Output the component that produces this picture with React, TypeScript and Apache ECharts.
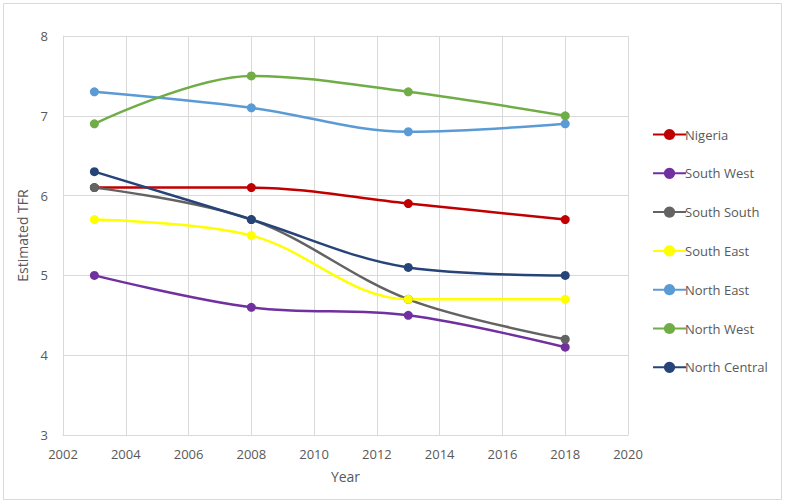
import React, { useEffect, useRef } from "react";
import * as echarts from "echarts";

const years = [2003, 2008, 2013, 2018];
const seriesNames = ["Nigeria", "South West", "South South", "South East", "North East", "North West", "North Central"];
const nigeria = [6.1, 6.1, 5.9, 5.7];
const southWest = [5.0, 4.6, 4.5, 4.1];
const southSouth = [6.1, 5.7, 4.7, 4.2];
const southEast = [5.7, 5.5, 4.7, 4.7];
const northEast = [7.3, 7.1, 6.8, 6.9];
const northWest = [6.9, 7.5, 7.3, 7.0];
const northCentral = [6.3, 5.7, 5.1, 5.0];
const colors = ["#C00000", "#7030A0", "#636363", "#FFFF00", "#5B9BD5", "#70AD47", "#264478"];

export default function App() {
  const ref = useRef<HTMLDivElement>(null);
  useEffect(() => {
    if (!ref.current) return;
    const chart = echarts.init(ref.current, null, { renderer: "svg" });
    const values = [nigeria, southWest, southSouth, southEast, northEast, northWest, northCentral];
    const font = "Open Sans";
    chart.setOption({
      animation: false,
      textStyle: { fontFamily: font },
      grid: { left: 63, right: 157, top: 36, bottom: 69 },
      graphic: [
        {
          type: "rect",
          shape: { x: 3.5, y: 3.5, width: 778, height: 496 },
          style: { fill: "none", stroke: "#d9d9d9", lineWidth: 1 },
          silent: true,
        },
      ],
      legend: {
        orient: "vertical",
        left: 647,
        top: 123,
        itemWidth: 33,
        itemHeight: 14,
        itemGap: 25.8,
        textStyle: { color: "#595959", fontSize: 13, fontFamily: font, padding: [0, 0, 0, -6] },
        data: seriesNames,
      },
      xAxis: {
        type: "value",
        min: 2002,
        max: 2020,
        interval: 2,
        name: "Year",
        nameLocation: "middle",
        nameGap: 34,
        nameTextStyle: { color: "#595959", fontSize: 14, fontFamily: font },
        axisLine: { show: true, lineStyle: { color: "#d9d9d9" } },
        axisTick: { show: false },
        axisLabel: { color: "#595959", fontSize: 13, margin: 12, fontFamily: font, formatter: (v: number) => String(v) },
        splitLine: { show: true, lineStyle: { color: "#d9d9d9" } },
      },
      yAxis: {
        type: "value",
        min: 3,
        max: 8,
        interval: 1,
        name: "Estimated TFR",
        nameLocation: "middle",
        nameGap: 28,
        nameTextStyle: { color: "#595959", fontSize: 14, fontFamily: font },
        axisLine: { show: true, lineStyle: { color: "#d9d9d9" } },
        axisTick: { show: false },
        axisLabel: { color: "#595959", fontSize: 13, margin: 15, fontFamily: font },
        splitLine: { show: true, lineStyle: { color: "#d9d9d9" } },
      },
      series: seriesNames.map((name, i) => ({
        name,
        type: "line",
        smooth: 0.35,
        symbol: "circle",
        symbolSize: 9,
        color: colors[i],
        lineStyle: { width: 2.5, color: colors[i] },
        itemStyle: { color: colors[i] },
        data: years.map((y, j) => [y, values[i][j]]),
      })),
    });
    return () => chart.dispose();
  }, []);
  return <div ref={ref} style={{ width: 785, height: 504, position: "absolute", left: 0, top: 0 }} />;
}
